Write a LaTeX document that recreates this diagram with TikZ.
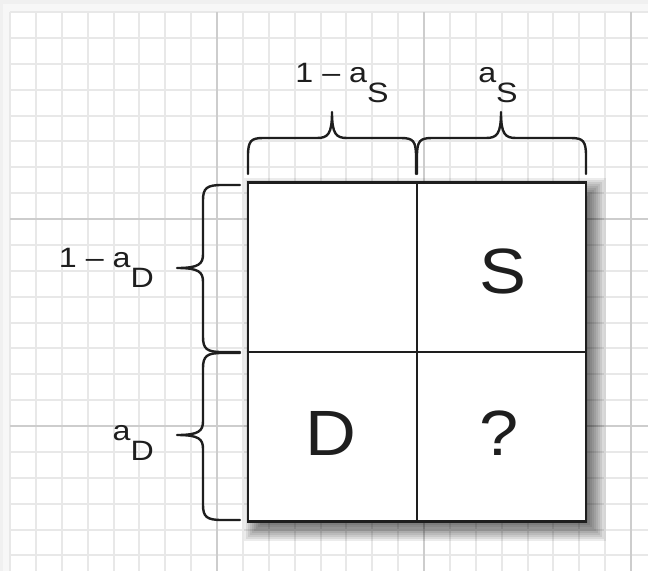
\documentclass[tikz,border=0pt]{standalone}
\usepackage{fontspec}
\setmainfont{Liberation Sans}
\newfontfamily\labfont[FakeStretch=1.15]{Liberation Sans}
\newfontfamily\bigfont[FakeStretch=1.1]{Liberation Sans}
\definecolor{gridminor}{HTML}{E8E8E8}
\definecolor{gridmajor}{HTML}{CDCDCD}
\definecolor{ink}{HTML}{1E1E1E}
\begin{document}
\begin{tikzpicture}[x=1pt,y=-1pt,
  minorline/.style={draw=gridminor,line width=2pt},
  majorline/.style={draw=gridmajor,line width=1.5pt},
  bracepath/.style={draw=ink,line width=2.4pt,line join=round,line cap=round},
  boxline/.style={draw=ink,line width=2.6pt},
  lab/.style={font=\labfont\fontsize{28}{30}\selectfont,text=ink,inner sep=0pt,anchor=base},
  biglab/.style={font=\bigfont\fontsize{64}{66}\selectfont,text=ink,inner sep=0pt,anchor=center}]
\useasboundingbox (0,0) rectangle (648,571);
% paper and its shadow
\fill[gray!12] (0,0) rectangle (648,571);
\fill[gray!6] (3,4) rectangle (648,571);
\fill[white] (10,12) rectangle (648,571);
% grid
\foreach \k in {0,...,24} {
  \pgfmathsetmacro{\gx}{10+25.875*\k}
  \draw[minorline] (\gx,12) -- (\gx,571);
}
\foreach \k in {0,...,22} {
  \pgfmathsetmacro{\gy}{12+25.875*\k}
  \draw[minorline] (10,\gy) -- (648,\gy);
}
\foreach \k in {1,2,3} {
  \pgfmathsetmacro{\gx}{10+207*\k}
  \draw[majorline] (\gx,12) -- (\gx,571);
}
\foreach \k in {1,2} {
  \pgfmathsetmacro{\gy}{12+207*\k}
  \draw[majorline] (10,\gy) -- (648,\gy);
}
% soft shadow of the table
\foreach \s in {-10,-8,...,12} {
  \fill[black,opacity=0.075] (256-\s,190-\s) rectangle (594+\s,529+\s);
}
% the table
\node[boxline,fill=white,minimum width=338pt,minimum height=339pt,inner sep=0pt]
  (table) at (417,352) {};
\draw[boxline] (table.north) -- (table.south);
\draw[boxline] (table.west) -- (table.east);
% cells' letters
\node[biglab] (S) at (503,271) {S};
\node[biglab] (D) at (331,433) {D};
\node[biglab] (Q) at (499,433) {?};
% top braces
\draw[bracepath] (248,174) -- (248,156) .. controls (248,141) and (251,138) .. (263,138) -- (317,138)
  .. controls (328,138) and (332,134) .. (332,112) .. controls (332,134) and (336,138) .. (347,138)
  -- (401,138) .. controls (413,138) and (416,141) .. (416,156) -- (416,174);
\draw[bracepath] (417,174) -- (417,156) .. controls (417,141) and (420,138) .. (432,138) -- (486,138)
  .. controls (497,138) and (501,134) .. (501,112) .. controls (501,134) and (505,138) .. (516,138)
  -- (571,138) .. controls (583,138) and (586,141) .. (586,156) -- (586,174);
% left braces
\draw[bracepath] (240,185) -- (222,185) .. controls (207,185) and (203,188) .. (203,200) -- (203,254)
  .. controls (203,264) and (199,268) .. (177,268) .. controls (199,268) and (203,272) .. (203,282)
  -- (203,337) .. controls (203,349) and (207,352) .. (222,352) -- (240,352);
\draw[bracepath] (240,353) -- (222,353) .. controls (207,353) and (203,356) .. (203,368) -- (203,421)
  .. controls (203,431) and (199,435) .. (177,435) .. controls (199,435) and (203,439) .. (203,449)
  -- (203,505) .. controls (203,517) and (207,520) .. (222,520) -- (240,520);
% labels
\node[lab] (ls1) at (342,82) {1 – a\raisebox{-20pt}{S}};
\node[lab] (ls2) at (498,82) {a\raisebox{-20pt}{S}};
\node[lab,anchor=base east] (ld1) at (154,267) {1 – a\raisebox{-20pt}{D}};
\node[lab,anchor=base east] (ld2) at (154,440) {a\raisebox{-20pt}{D}};
\end{tikzpicture}
\end{document}
